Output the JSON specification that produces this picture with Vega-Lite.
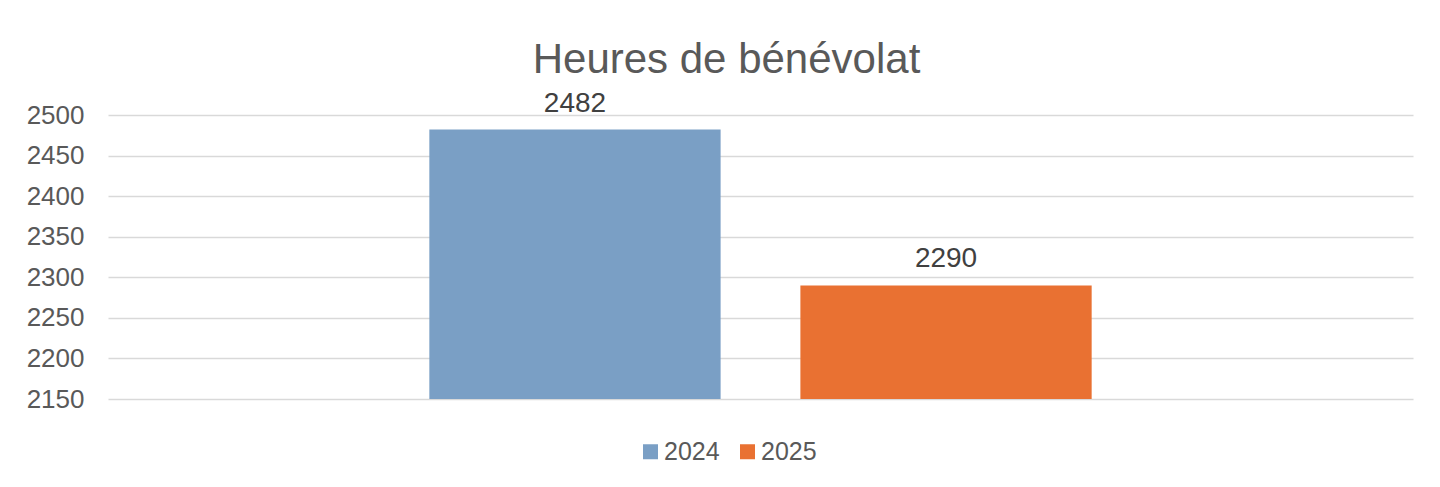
{
  "$schema": "https://vega.github.io/schema/vega-lite/v6.json",
  "autosize": "none",
  "width": 1305,
  "height": 284,
  "padding": {"left": 108, "top": 115, "right": 27, "bottom": 88},
  "background": "white",
  "title": {
    "text": "Heures de bénévolat",
    "font": "Liberation Sans",
    "fontSize": 42,
    "fontWeight": "normal",
    "color": "#595959",
    "anchor": "middle",
    "frame": "group",
    "baseline": "alphabetic",
    "offset": -25,
    "dx": -34
  },
  "data": {
    "values": [
      {"annee": "2024", "heures": 2482},
      {"annee": "2025", "heures": 2290}
    ]
  },
  "encoding": {
    "x": {
      "field": "annee",
      "type": "nominal",
      "axis": null,
      "scale": {"paddingInner": 0.215, "paddingOuter": 0.866}
    },
    "y": {
      "field": "heures",
      "type": "quantitative",
      "title": null,
      "scale": {"domain": [2150, 2500], "nice": false, "zero": false},
      "axis": {
        "values": [2150, 2200, 2250, 2300, 2350, 2400, 2450, 2500],
        "format": "d",
        "domain": false,
        "ticks": false,
        "tickSize": 0,
        "labelPadding": 24,
        "labelFont": "Liberation Sans",
        "labelFontSize": 26,
        "labelColor": "#595959",
        "grid": true,
        "gridColor": "#d9d9d9",
        "gridWidth": 1.5
      }
    }
  },
  "layer": [
    {
      "mark": {"type": "bar", "clip": true},
      "encoding": {
        "color": {
          "field": "annee",
          "type": "nominal",
          "scale": {"range": ["#7a9fc5", "#e97132"]},
          "legend": {
            "orient": "none",
            "legendX": 530,
            "legendY": 324,
            "direction": "horizontal",
            "title": null,
            "symbolType": "square",
            "symbolSize": 225,
            "symbolStrokeWidth": 0,
            "labelFont": "Liberation Sans",
            "labelFontSize": 25,
            "labelColor": "#595959",
            "labelOffset": 1,
            "columnPadding": 15
          }
        }
      }
    },
    {
      "mark": {
        "type": "text",
        "baseline": "alphabetic",
        "dy": -18,
        "font": "Liberation Sans",
        "fontSize": 28,
        "color": "#404040"
      },
      "encoding": {
        "text": {"field": "heures", "type": "quantitative", "format": "d"}
      }
    }
  ],
  "config": {"view": {"stroke": null}}
}
